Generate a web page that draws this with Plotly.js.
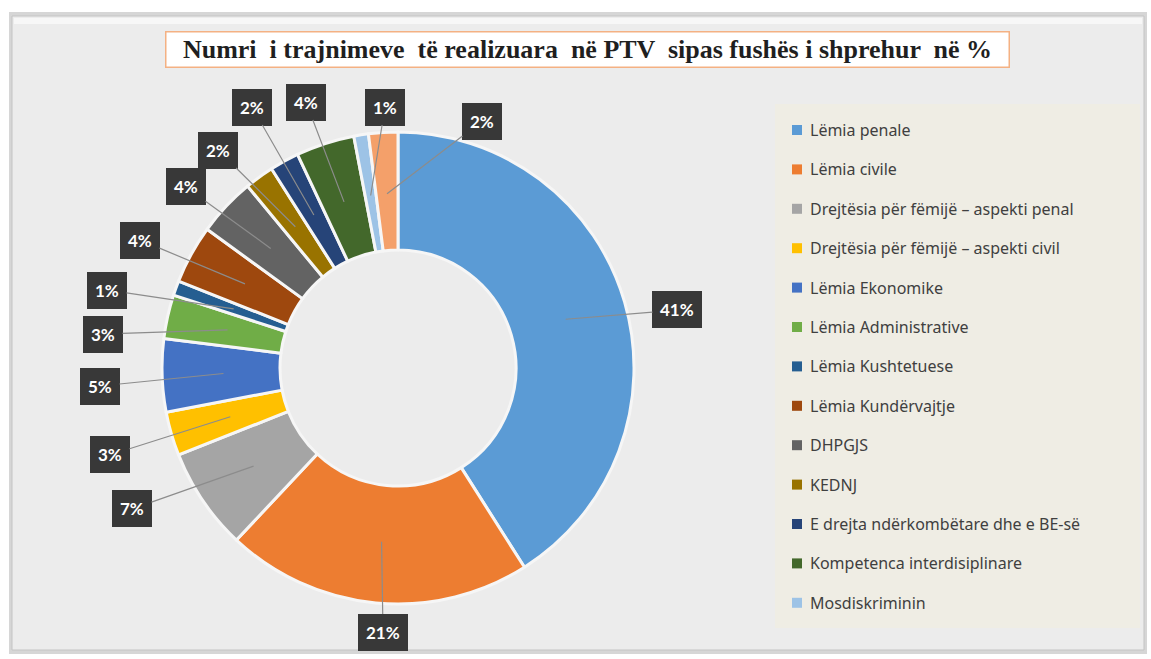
<!DOCTYPE html>
<html>
<head>
<meta charset="utf-8">
<script src="https://cdn.plot.ly/plotly-3.0.1.min.js"></script>
<style>
  html, body { margin: 0; padding: 0; background: #ffffff; }
  #plot { width: 1151px; height: 659px; }
</style>
</head>
<body>
<div id="plot"></div>
<script>
// Data (percent of trainings per field)
let fields = [
  "Lëmia penale",
  "Lëmia civile",
  "Drejtësia për fëmijë – aspekti penal",
  "Drejtësia për fëmijë – aspekti civil",
  "Lëmia Ekonomike",
  "Lëmia Administrative",
  "Lëmia Kushtetuese",
  "Lëmia Kundërvajtje",
  "DHPGJS",
  "KEDNJ",
  "E drejta ndërkombëtare dhe e BE-së",
  "Kompetenca interdisiplinare",
  "Mosdiskriminin",
  "Të tjera"
];
let shares = [41, 21, 7, 3, 5, 3, 1, 4, 4, 2, 2, 4, 1, 2];
let pctLabels = ["41%", "21%", "7%", "3%", "5%", "3%", "1%", "4%", "4%", "2%", "2%", "4%", "1%", "2%"];
// the last slice is cut off from the legend in the original
let inLegend = 13;

let colors = ['#5B9BD5', '#ED7D31', '#A5A5A5', '#FFC000', '#4472C4', '#70AD47',
  '#255E91', '#9E480E', '#636363', '#997300', '#264478', '#43682B', '#9DC3E6', '#F4A06A'];

// label box centres (pixels), placed by hand like the original
let labelPos = [[677, 310], [383, 632], [132, 509], [110, 455], [100, 386], [103, 334],
  [107, 290], [140, 240], [186, 187], [218, 150], [252, 107], [306, 102], [385, 107], [482, 121]];

const W = 1151, H = 659;
const cx = 398, cy = 368, R = 236;

let trace1 = {
  type: "pie",
  values: shares,
  labels: fields,
  hole: 0.5,
  sort: false,
  direction: "clockwise",
  rotation: 0,
  textinfo: "none",
  hoverinfo: "label+percent",
  marker: { colors: colors, line: { color: "#f6f6f6", width: 3 } },
  domain: { x: [(cx - R) / W, (cx + R) / W], y: [(H - cy - R) / H, (H - cy + R) / H] },
  showlegend: false
};

let total = shares.reduce((a, b) => a + b, 0);
let annotations = [];
let shapes = [];

// frame and background
shapes.push({ type: "rect", xref: "paper", yref: "paper", x0: 9 / W, x1: 1147 / W, y0: 1 - 654 / H, y1: 1 - 12 / H,
  fillcolor: "#d6d6d6", line: { width: 0 }, layer: "below" });
shapes.push({ type: "rect", xref: "paper", yref: "paper", x0: 12 / W, x1: 1144 / W, y0: 1 - 650 / H, y1: 1 - 16 / H,
  fillcolor: "#ececec", line: { color: "#c4c4c4", width: 1 }, layer: "below" });
shapes.push({ type: "rect", xref: "paper", yref: "paper", x0: 14 / W, x1: 1142 / W, y0: 1 - 24 / H, y1: 1 - 18 / H,
  fillcolor: "#f7f7f7", line: { width: 0 }, layer: "below" });
// legend panel
shapes.push({ type: "rect", xref: "paper", yref: "paper", x0: 775 / W, x1: 1140 / W, y0: 1 - 628 / H, y1: 1 - 104 / H,
  fillcolor: "#efede4", line: { width: 0 }, layer: "below" });

// title
annotations.push({
  text: "<b>Numri  i trajnimeve  të realizuara  në PTV  sipas fushës i shprehur  në %</b>",
  xref: "paper", yref: "paper", x: 587 / W, y: 1 - 49 / H, xanchor: "center", yanchor: "middle",
  showarrow: false, width: 840, height: 32, bgcolor: "#ffffff", bordercolor: "#F4B183", borderwidth: 1.5,
  font: { family: "Liberation Serif", size: 26, color: "#1f1f1f" }
});

// percentage labels with leader lines
let cum = 0;
shares.forEach((v, i) => {
  let th = 2 * Math.PI * (cum + v / 2) / total;
  cum += v;
  let tx = cx + 0.74 * R * Math.sin(th);
  let ty = cy - 0.74 * R * Math.cos(th);
  annotations.push({
    text: "<b>" + pctLabels[i] + "</b>",
    xref: "paper", yref: "paper", x: tx / W, y: 1 - ty / H,
    ax: labelPos[i][0] - tx, ay: labelPos[i][1] - ty,
    showarrow: true, arrowhead: 0, arrowwidth: 1.2, arrowcolor: "#8c8c8c", standoff: 0,
    bgcolor: "#383838", borderpad: 7, bordercolor: "#383838",
    font: { family: "Lato", size: 17, color: "#ffffff" }
  });
});

// legend drawn by hand so the last slice can be left out
for (let i = 0; i < inLegend; i++) {
  let y = 130 + i * 39.4;
  shapes.push({ type: "rect", xref: "paper", yref: "paper",
    x0: 792 / W, x1: 802 / W, y0: 1 - (y + 5) / H, y1: 1 - (y - 5) / H,
    fillcolor: colors[i], line: { width: 0 } });
  annotations.push({
    text: fields[i], xref: "paper", yref: "paper", x: 808 / W, y: 1 - y / H,
    xanchor: "left", yanchor: "middle", showarrow: false,
    font: { family: "Noto Sans", size: 16, color: "#404040" }
  });
}

let layout = {
  width: W,
  height: H,
  margin: { l: 0, r: 0, t: 0, b: 0 },
  paper_bgcolor: "#ffffff",
  showlegend: false,
  shapes: shapes,
  annotations: annotations
};

Plotly.newPlot("plot", [trace1], layout, { displayModeBar: false });
</script>
</body>
</html>
